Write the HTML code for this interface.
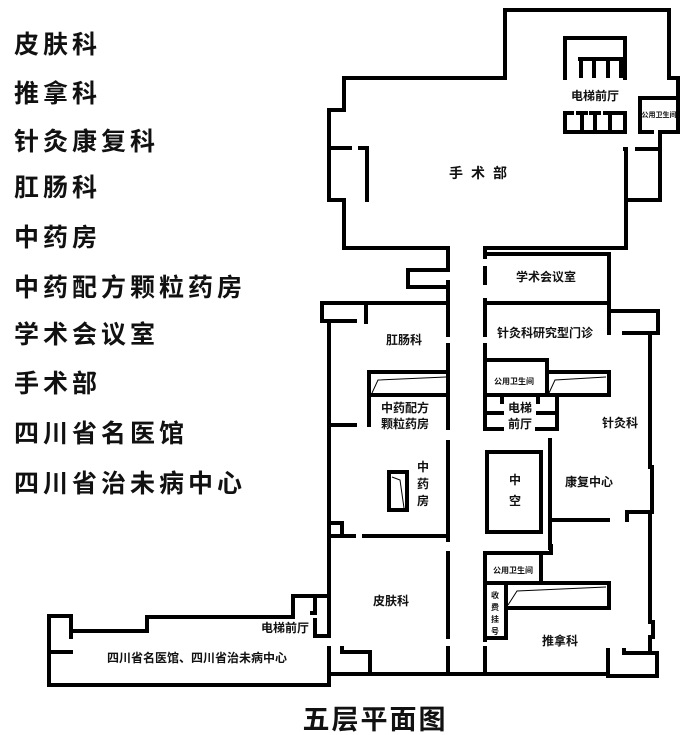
<!DOCTYPE html>
<html><head><meta charset="utf-8"><style>
html,body{margin:0;padding:0;background:#fff;width:691px;height:735px;overflow:hidden}
svg{display:block}
text{font-family:"Liberation Sans","Noto Sans CJK SC","WenQuanYi Zen Hei",sans-serif;font-weight:bold;fill:#111}
</style></head><body>
<svg width="691" height="735" viewBox="0 0 691 735" xmlns="http://www.w3.org/2000/svg">
<g font-size="25" letter-spacing="4">
<text x="14" y="53">皮肤科</text>
<text x="14" y="102">推拿科</text>
<text x="14" y="150">针灸康复科</text>
<text x="14" y="196">肛肠科</text>
<text x="14" y="246">中药房</text>
<text x="14" y="296">中药配方颗粒药房</text>
<text x="14" y="343">学术会议室</text>
<text x="14" y="392">手术部</text>
<text x="14" y="442">四川省名医馆</text>
<text x="14" y="492">四川省治未病中心</text>
</g>
<g fill="none" stroke="#000" stroke-width="4" stroke-linecap="square">
<polyline points="448,270 448,248 344,248 344,200 329,200 329,110 344,110 344,78 505,78 505,10 669,10 669,78 678,78 678,132 660,132 660,149 637,149"/>
<line x1="660" y1="149" x2="660" y2="200"/>
<polyline points="660,200 626,200 626,149 625,149"/>
<line x1="626" y1="149" x2="626" y2="248"/>
<line x1="626" y1="248" x2="485" y2="248"/>
<line x1="485" y1="248" x2="485" y2="257"/>
<polyline points="329,148 350,148"/>
<polyline points="360,148 367,148 367,200"/>
<polyline points="640,132 640,98 678,98"/>
<line x1="640" y1="132" x2="652" y2="132"/>
<polyline points="565,78 565,38 625,38 625,78"/>
<line x1="580" y1="59" x2="625" y2="59"/>
<line x1="581" y1="59" x2="581" y2="76"/><line x1="594" y1="59" x2="594" y2="76"/><line x1="608" y1="59" x2="608" y2="76"/><line x1="621" y1="59" x2="621" y2="76"/>
<polyline points="565,113 565,132 625,132 625,113"/>
<line x1="566" y1="113" x2="572" y2="113"/><line x1="578" y1="113" x2="586" y2="113"/><line x1="591" y1="113" x2="599" y2="113"/><line x1="605" y1="113" x2="625" y2="113"/>
<line x1="582" y1="113" x2="582" y2="130"/><line x1="595" y1="113" x2="595" y2="130"/><line x1="610" y1="113" x2="610" y2="130"/>
<polyline points="408,270 447,270"/>
<polyline points="408,270 408,287 447,287"/>
<line x1="448" y1="282" x2="448" y2="335"/>
<line x1="448" y1="345" x2="448" y2="428"/>
<line x1="448" y1="442" x2="448" y2="540"/>
<line x1="448" y1="553" x2="448" y2="637"/>
<line x1="448" y1="648" x2="448" y2="673"/>
<polyline points="448,303 322,303 322,321 355,321"/>
<line x1="366" y1="303" x2="366" y2="322"/>
<line x1="329" y1="321" x2="329" y2="636"/>
<polyline points="448,372 369,372 369,425"/>
<line x1="369" y1="395" x2="448" y2="395"/>
<line x1="329" y1="425" x2="355" y2="425"/>
<polyline points="329,523 342,523 342,536"/>
<line x1="329" y1="536" x2="354" y2="536"/>
<line x1="364" y1="536" x2="448" y2="536"/>
<rect x="389" y="472" width="18" height="38"/>
<polyline points="485,303 609,303 609,254 485,254"/>
<line x1="485" y1="268" x2="485" y2="283"/>
<line x1="485" y1="300" x2="485" y2="335"/>
<line x1="485" y1="345" x2="485" y2="428"/>
<polyline points="609,303 609,333"/>
<polyline points="609,311 658,311 658,333 624,333"/>
<polyline points="650,333 650,467 652,467 652,512 650,512 650,622 653,622 653,637 650,637 650,653"/>
<polyline points="485,360 547,360 547,395"/>
<polyline points="547,372 609,372 609,395 485,395"/>
<polyline points="485,395 485,429 502,429"/>
<line x1="485" y1="413" x2="502" y2="413"/>
<line x1="538" y1="413" x2="557" y2="413"/>
<polyline points="537,429 557,429 557,395"/>
<line x1="502" y1="397" x2="502" y2="402"/><line x1="538" y1="397" x2="538" y2="402"/>
<line x1="550" y1="440" x2="550" y2="548"/>
<line x1="550" y1="520" x2="608" y2="520"/>
<polyline points="627,520 627,512 650,512"/>
<rect x="487" y="452" width="54" height="80"/>
<polyline points="551,546 551,553 485,553 485,640"/>
<line x1="485" y1="648" x2="485" y2="673"/>
<polyline points="541,553 541,583"/>
<polyline points="485,583 609,583 609,608 506,608"/>
<line x1="506" y1="583" x2="506" y2="638"/>
<line x1="485" y1="638" x2="506" y2="638"/>
<polyline points="342,648 342,652 370,652 370,674"/>
<line x1="330" y1="674" x2="608" y2="674"/>
<polyline points="608,650 608,676 657,676 657,653 624,653 624,650"/>
<line x1="329" y1="648" x2="329" y2="685"/>
<polyline points="329,636 329,596 293,596 293,617 147,617 147,631 71,631 71,616 49,616 49,685 329,685"/>
<line x1="49" y1="652" x2="71" y2="652"/>
<polyline points="315,600 315,613 312,613"/>
<polyline points="315,620 315,636 329,636"/>
<line x1="71" y1="631" x2="71" y2="637"/>
</g>
<g fill="none" stroke="#000" stroke-width="1">
<polyline points="372,393 378,380 446,377"/>
<polyline points="549,393 555,380 606,377"/>
<polyline points="508,605 517,591 606,587"/>
<polyline points="392,477 400,480 404,508"/>
</g>
<g font-size="12" text-anchor="middle">
<text x="595" y="100">电梯前厅</text>
<text x="482" y="178" font-size="14" letter-spacing="8">手术部</text>
<text x="546" y="281">学术会议室</text>
<text x="404" y="344">肛肠科</text>
<text x="545" y="337">针灸科研究型门诊</text>
<text x="405" y="412">中药配方</text>
<text x="405" y="428">颗粒药房</text>
<text x="423" y="471">中</text><text x="423" y="488">药</text><text x="423" y="505">房</text>
<text x="520" y="412">电梯</text>
<text x="520" y="428">前厅</text>
<text x="620" y="427">针灸科</text>
<text x="589" y="486">康复中心</text>
<text x="515" y="484">中</text><text x="515" y="505">空</text>
<text x="391" y="605">皮肤科</text>
<text x="560" y="645">推拿科</text>
<text x="285" y="632">电梯前厅</text>
<text x="197" y="662">四川省名医馆、四川省治未病中心</text>
<text x="375" y="729" font-size="27" letter-spacing="2">五层平面图</text>
</g>
<g font-size="8" text-anchor="middle">
<text x="659" y="117" font-size="7">公用卫生间</text>
<text x="514" y="384">公用卫生间</text>
<text x="513" y="573">公用卫生间</text>
<text x="495" y="598">收</text><text x="495" y="610">费</text><text x="495" y="622">挂</text><text x="495" y="634">号</text>
</g>
</svg>
</body></html>
